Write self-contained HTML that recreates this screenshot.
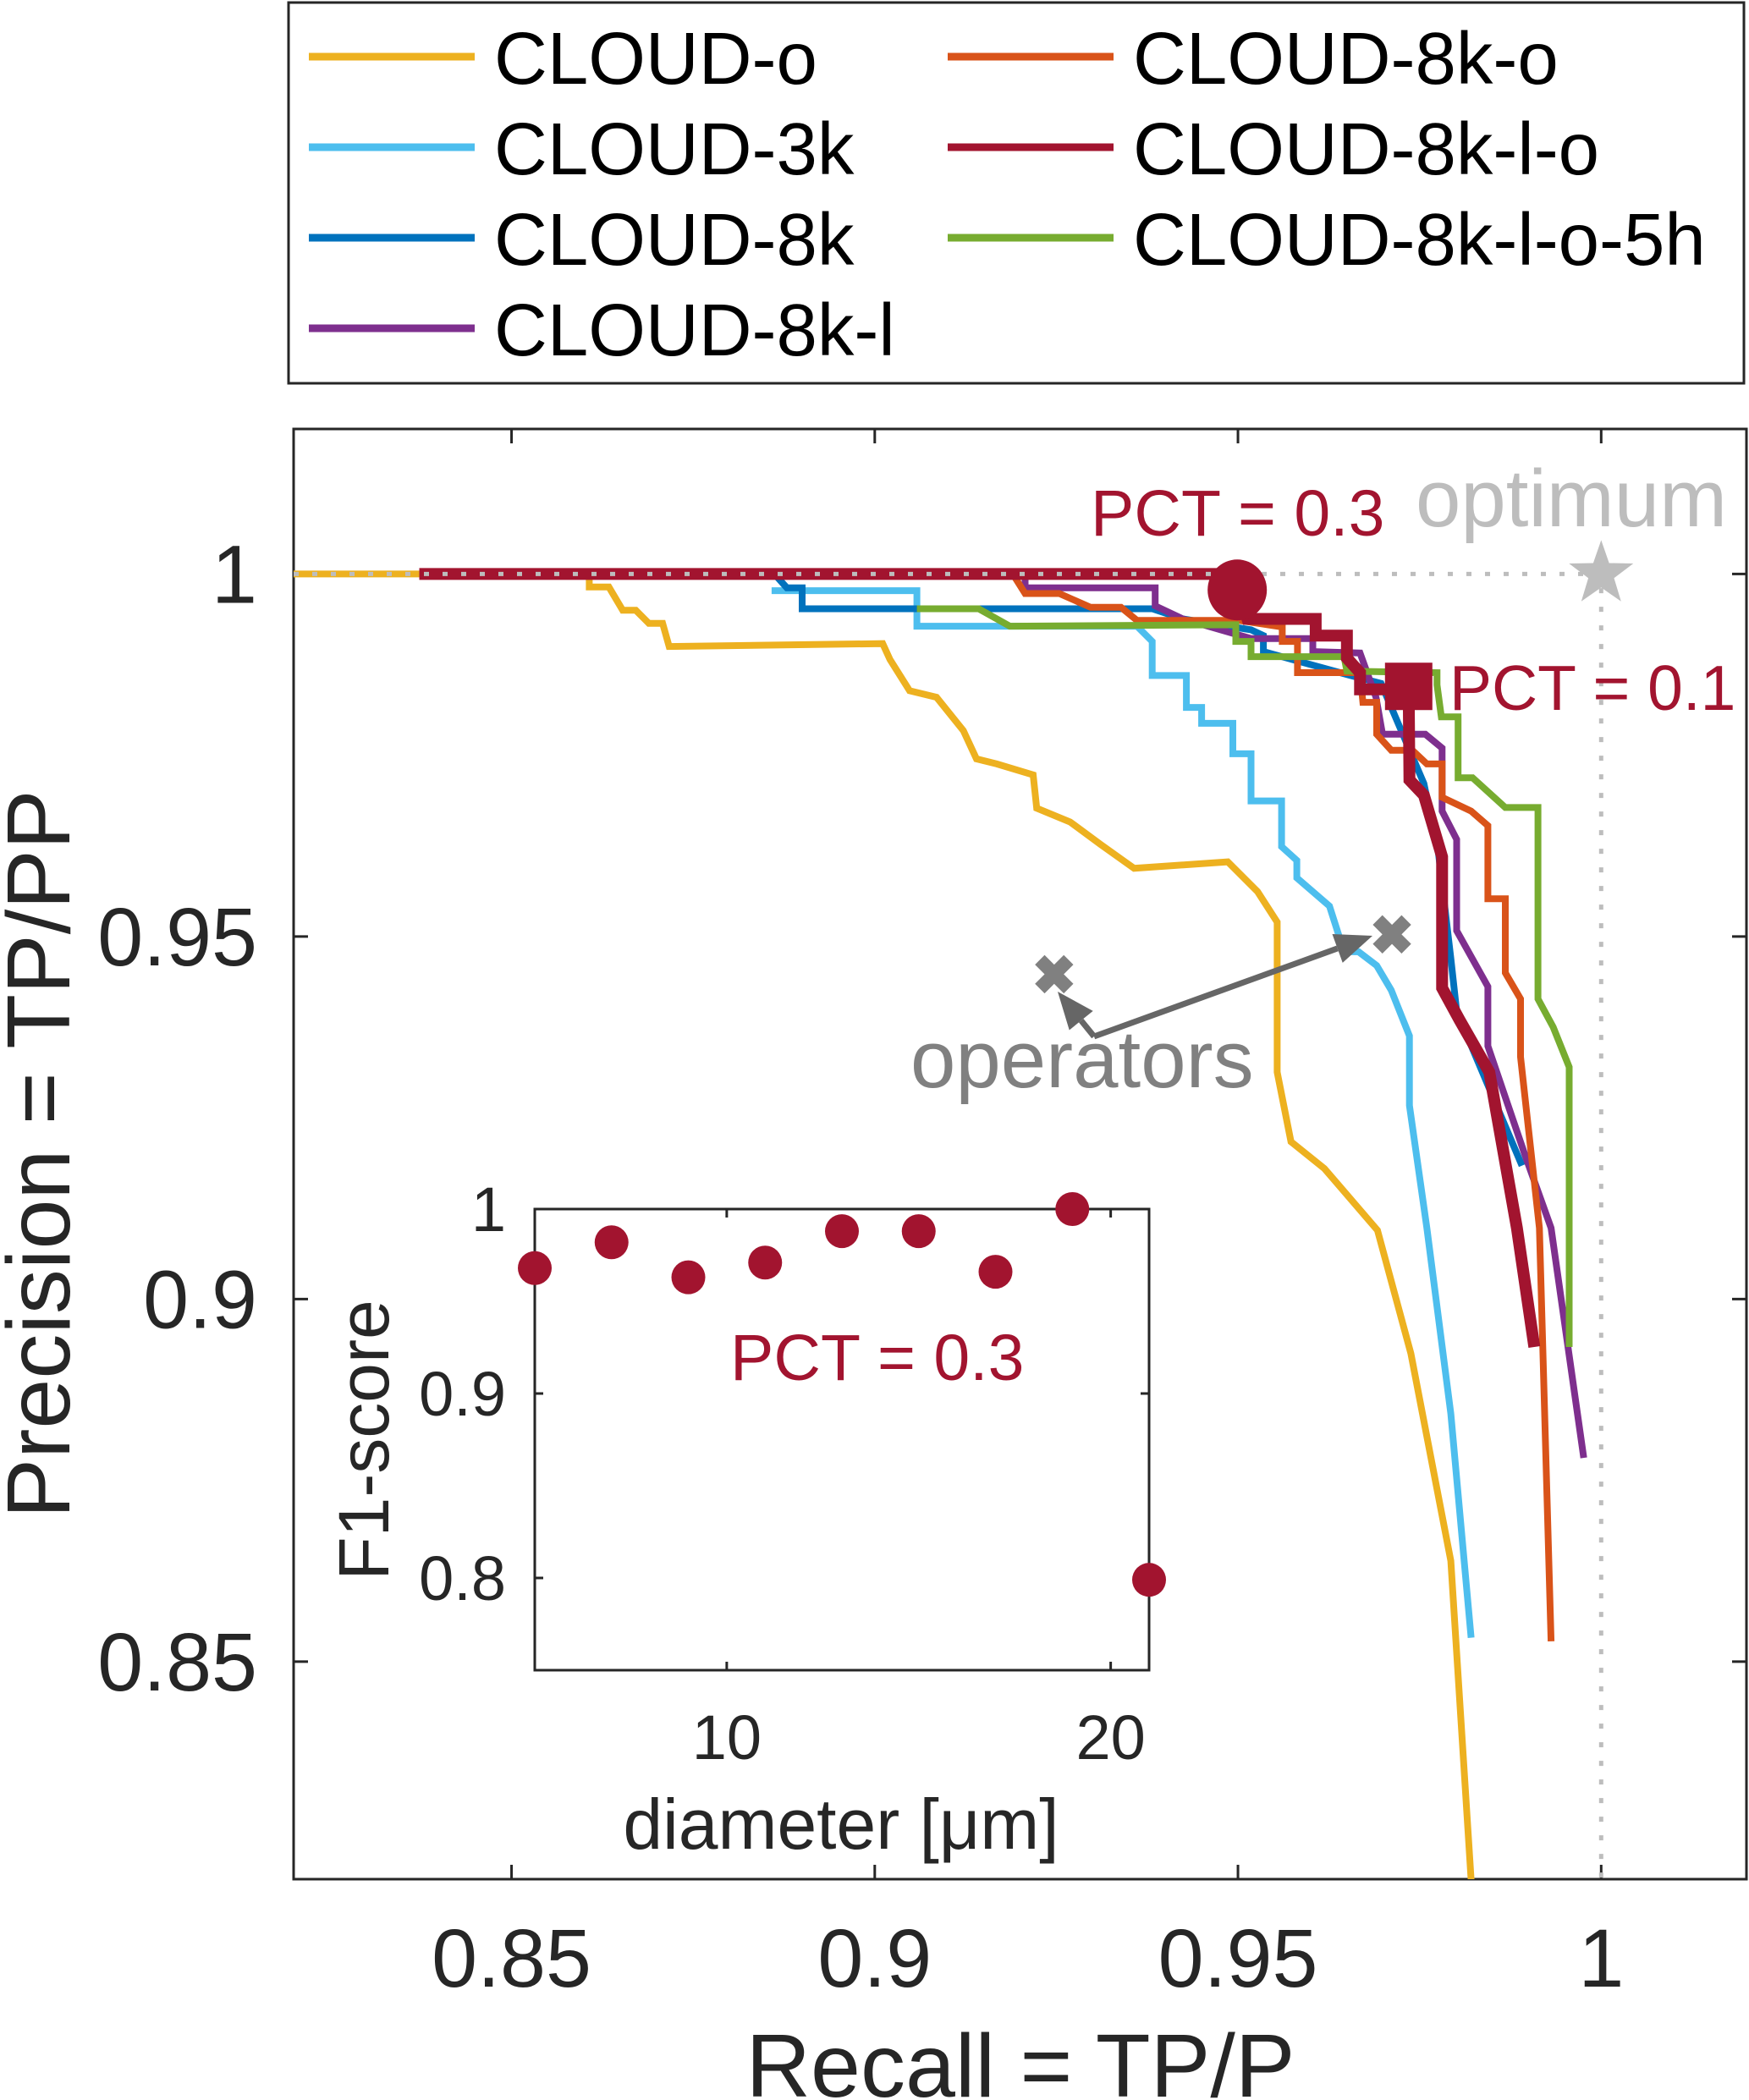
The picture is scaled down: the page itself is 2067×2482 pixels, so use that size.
<!DOCTYPE html>
<html><head><meta charset="utf-8"><style>
html,body{margin:0;padding:0;background:#fff;}
svg{display:block;font-family:"Liberation Sans",Arial,sans-serif;}
</style></head><body>
<svg id="chart" width="2067" height="2482" viewBox="0 0 2067 2482" xmlns="http://www.w3.org/2000/svg">
<g id="legend"></g>
<g id="main"></g>
<g id="inset"></g>
</svg>
<script>
// ===== Main chart data (recall, precision) =====
const seriesNames = ["CLOUD-o","CLOUD-3k","CLOUD-8k","CLOUD-8k-l","CLOUD-8k-o","CLOUD-8k-l-o","CLOUD-8k-l-o-5h"];
const seriesColors = ["#EDB120","#4DBEEE","#0072BD","#7E2F8E","#D95319","#A2142F","#77AC30"];
const recallO = [0.82,0.8607,0.8607,0.8634,0.8653,0.8671,0.8689,0.8708,0.8717,0.9011,0.9021,0.9048,0.9085,0.9122,0.9140,0.9168,0.9218,0.9223,0.9269,0.9311,0.9357,0.9486,0.9527,0.9554,0.9554,0.9573,0.9619,0.9692,0.9738,0.9793,0.9821];
const precO   = [1,1,0.9982,0.9982,0.9950,0.9950,0.9932,0.9932,0.9900,0.9904,0.9882,0.9839,0.9830,0.9784,0.9745,0.9738,0.9723,0.9677,0.9658,0.9627,0.9594,0.9603,0.9562,0.9520,0.9313,0.9217,0.9180,0.9095,0.8925,0.8639,0.8199];
const recall3k = [0.8858,0.9058,0.9058,0.9361,0.9382,0.9382,0.9429,0.9429,0.9450,0.9450,0.9493,0.9493,0.9518,0.9518,0.9560,0.9560,0.9581,0.9581,0.9626,0.9646,0.9666,0.9691,0.9711,0.9736,0.9736,0.9760,0.9793,0.9821];
const prec3k   = [0.9977,0.9977,0.9928,0.9928,0.9907,0.9860,0.9860,0.9816,0.9816,0.9794,0.9794,0.9752,0.9752,0.9687,0.9687,0.9624,0.9605,0.9581,0.9542,0.9479,0.9479,0.9460,0.9426,0.9363,0.9267,0.9098,0.8842,0.8533];
const recall8k = [0.8862,0.8879,0.8900,0.8900,0.9382,0.9424,0.9518,0.9535,0.9535,0.9655,0.9697,0.9756,0.9776,0.9793,0.9801,0.9891];
const prec8k   = [1,0.9981,0.9981,0.9952,0.9952,0.9938,0.9923,0.9915,0.9893,0.9860,0.9849,0.9711,0.9615,0.9470,0.9397,0.9184];
const recall8kl = [0.9207,0.9207,0.9386,0.9386,0.9424,0.9518,0.9603,0.9603,0.9668,0.9690,0.9699,0.9758,0.9781,0.9781,0.9801,0.9801,0.9844,0.9844,0.9895,0.9931,0.9976];
const prec8kl   = [1,0.9981,0.9981,0.9956,0.9938,0.9911,0.9911,0.9893,0.9891,0.9830,0.9779,0.9779,0.9760,0.9673,0.9634,0.9508,0.9431,0.9349,0.9199,0.9098,0.8781];
const recall8ko = [0.9190,0.9207,0.9254,0.9297,0.9339,0.9361,0.9501,0.9561,0.9561,0.9582,0.9582,0.9668,0.9672,0.9691,0.9691,0.9711,0.9740,0.9760,0.9781,0.9781,0.9821,0.9844,0.9844,0.9868,0.9868,0.9889,0.9889,0.9915,0.9931];
const prec8ko   = [1,0.9973,0.9973,0.9954,0.9954,0.9936,0.9936,0.9927,0.9907,0.9907,0.9864,0.9864,0.9823,0.9823,0.9779,0.9757,0.9757,0.9738,0.9738,0.9692,0.9673,0.9653,0.9552,0.9552,0.9450,0.9414,0.9334,0.9098,0.8528];
const recall8klo = [0.8373,0.9493,0.9513,0.9607,0.9607,0.9650,0.9650,0.9668,0.9668,0.9735,0.9736,0.9756,0.9781,0.9781,0.9805,0.9846,0.9884,0.9908];
const prec8klo   = [1,1,0.9938,0.9938,0.9915,0.9915,0.9884,0.9864,0.9841,0.9841,0.9716,0.9695,0.9610,0.9429,0.9385,0.9313,0.9098,0.8934];
const recall5h = [0.9058,0.9143,0.9186,0.9497,0.9497,0.9518,0.9518,0.9646,0.9650,0.9774,0.9774,0.9780,0.9803,0.9803,0.9823,0.9868,0.9913,0.9913,0.9934,0.9956,0.9956];
const prec5h   = [0.9952,0.9952,0.9928,0.9930,0.9907,0.9907,0.9886,0.9886,0.9866,0.9864,0.9847,0.9803,0.9803,0.9719,0.9719,0.9678,0.9678,0.9414,0.9375,0.9320,0.8934];
const xTicks = [0.85,0.9,0.95,1];
const xTickLabels = ["0.85","0.9","0.95","1"];
const yTicks = [0.85,0.9,0.95,1];
const yTickLabels = ["0.85","0.9","0.95","1"];
const pct03Point = [0.9499,0.9978];
const pct01Point = [0.9735,0.9845];
const optimumPoint = [1,1];
const operatorRecall = [0.9247,0.9712];
const operatorPrecision = [0.9448,0.9503];

// ===== Inset data =====
const insetDiameters = [5,7,9,11,13,15,17,19,21];
const insetF1 = [0.968,0.982,0.963,0.971,0.988,0.988,0.966,1.0,0.799];
const insetXTicks = [10,20];
const insetYTicks = [0.8,0.9,1];
const insetYTickLabels = ["0.8","0.9","1"];

const NS = "http://www.w3.org/2000/svg";
function mk(tag, attrs, parent){const e=document.createElementNS(NS,tag);for(const k in attrs)e.setAttribute(k,attrs[k]);parent.appendChild(e);return e;}

const AX={l:347,r:2064,t:507,b:2221,x0:0.82,x1:1.02,y0:0.82,y1:1.02};
function sx(v){return AX.l+(v-AX.x0)/(AX.x1-AX.x0)*(AX.r-AX.l);}
function sy(v){return AX.b-(v-AX.y0)/(AX.y1-AX.y0)*(AX.b-AX.t);}
const main=document.getElementById('main');
let e;
e=mk('rect',{x:AX.l,y:AX.t,width:AX.r-AX.l,height:AX.b-AX.t,fill:'none',stroke:'#262626','stroke-width':3},main);


xTicks.forEach((t,i)=>{
  const x=sx(t);
  let l=mk('path',{d:`M${x},${AX.b}v-17M${x},${AX.t}v17`,stroke:'#262626','stroke-width':3},main);
  
  
  let tx=mk('text',{x:x,y:2348,'font-size':97,'text-anchor':'middle',fill:'#262626'},main);
  tx.textContent=xTickLabels[i];
  
  
});
yTicks.forEach((t,i)=>{
  const y=sy(t);
  let l=mk('path',{d:`M${AX.l},${y}h17M${AX.r},${y}h-17`,stroke:'#262626','stroke-width':3},main);
  
  
  let tx=mk('text',{x:304,y:y+34,'font-size':97,'text-anchor':'end',fill:'#262626'},main);
  tx.textContent=yTickLabels[i];
  
  
});
e=mk('text',{x:1206,y:2478,'font-size':106,'text-anchor':'middle',fill:'#262626'},main);
e.textContent='Recall = TP/P';


e=mk('text',{x:0,y:0,'font-size':106,'text-anchor':'middle',fill:'#262626',transform:'translate(82,1364) rotate(-90)'},main);
e.textContent='Precision = TP/PP';



const clip=mk('clipPath',{id:'mclip'},main);
mk('rect',{x:AX.l,y:AX.t,width:AX.r-AX.l,height:AX.b-AX.t},clip);
const lines=mk('g',{'clip-path':'url(#mclip)'},main);

const drawOrder=[[recallO,precO,0,8,'line-cloud-o'],[recall3k,prec3k,1,8,'line-cloud-3k'],[recall8k,prec8k,2,8,'line-cloud-8k'],[recall8kl,prec8kl,3,8,'line-cloud-8k-l'],[recall8ko,prec8ko,4,8,'line-cloud-8k-o'],[recall5h,prec5h,6,8,'line-cloud-8k-l-o-5h'],[recall8klo,prec8klo,5,14,'line-cloud-8k-l-o']];
drawOrder.forEach(s=>{
  const d=s[0].map((r,i)=>(i?'L':'M')+sx(r).toFixed(1)+','+sy(s[1][i]).toFixed(1)).join('');
  const p=mk('path',{d:d,fill:'none',stroke:seriesColors[s[2]],'stroke-width':s[3],'stroke-linejoin':'miter'},lines);
  
  
});
e=mk('path',{d:`M${sx(0.82)},${sy(1)}H${sx(1)}V${AX.b}`,fill:'none',stroke:'#bdbdbd','stroke-width':5,'stroke-dasharray':'6 16'},lines);


e=mk('ellipse',{cx:sx(pct03Point[0]),cy:sy(pct03Point[1]),rx:35,ry:36,fill:'#A2142F'},main);


e=mk('rect',{x:sx(pct01Point[0])-28,y:sy(pct01Point[1])-28,width:56,height:56,fill:'#A2142F'},main);


(function(){const cx=sx(optimumPoint[0]),cy=sy(optimumPoint[1]);let pts=[];for(let i=0;i<10;i++){const a=-Math.PI/2+i*Math.PI/5,rr=i%2?16:40;pts.push((cx+rr*Math.cos(a)).toFixed(1)+','+(cy+rr*Math.sin(a)).toFixed(1));}
e=mk('polygon',{points:pts.join(' '),fill:'#bdbdbd'},main);

})();
operatorRecall.forEach((r,i)=>{
  const cx=sx(r),cy=sy(operatorPrecision[i]);
  const m=mk('path',{d:`M${cx-17},${cy-17}L${cx+17},${cy+17}M${cx+17},${cy-17}L${cx-17},${cy+17}`,stroke:'#808080','stroke-width':16},main);
  
  
});
function arrow(x1,y1,x2,y2,name){const a=Math.atan2(y2-y1,x2-x1),L=44,W=18;
  const bx=x2-L*Math.cos(a),by=y2-L*Math.sin(a);
  const g=mk('g',{},main);
  
  
  mk('line',{x1:x1,y1:y1,x2:bx,y2:by,stroke:'#666','stroke-width':7},g);
  mk('polygon',{points:`${x2},${y2} ${bx+W*Math.sin(a)},${by-W*Math.cos(a)} ${bx-W*Math.sin(a)},${by+W*Math.cos(a)}`,fill:'#666'},g);}
arrow(1293,1225,1250,1172,'operator-arrow-left');
arrow(1293,1225,1622,1106,'operator-arrow-right');
function label(x,y,size,color,txt,name){const t=mk('text',{x:x,y:y,'font-size':size,fill:color},main);t.textContent=txt;
  
  }
label(1289,633,77,'#A2142F','PCT = 0.3','pct-0.3-label');
label(1673,622,96,'#bdbdbd','optimum','optimum-label');
label(1713,839,75,'#A2142F','PCT = 0.1','pct-0.1-label');
label(1076,1285,96,'#808080','operators','operators-label');

const IN={l:632,r:1358,t:1429,b:1974,x0:5,x1:21,y0:0.75,y1:1};
function ix(v){return IN.l+(v-IN.x0)/(IN.x1-IN.x0)*(IN.r-IN.l);}
function iy(v){return IN.b-(v-IN.y0)/(IN.y1-IN.y0)*(IN.b-IN.t);}
const inset=document.getElementById('inset');
e=mk('rect',{x:IN.l,y:IN.t,width:IN.r-IN.l,height:IN.b-IN.t,fill:'#fff',stroke:'#262626','stroke-width':3},inset);


insetXTicks.forEach(t=>{const x=ix(t);
  let l=mk('path',{d:`M${x},${IN.b}v-10M${x},${IN.t}v10`,stroke:'#262626','stroke-width':3},inset);
  
  
  let tx=mk('text',{x:x,y:2079,'font-size':74,'text-anchor':'middle',fill:'#262626'},inset);tx.textContent=String(t);
  
  });
insetYTicks.forEach((t,i)=>{const y=iy(t);
  let l=mk('path',{d:`M${IN.l},${y}h10M${IN.r},${y}h-10`,stroke:'#262626','stroke-width':3},inset);
  
  
  let tx=mk('text',{x:598,y:y+26,'font-size':74,'text-anchor':'end',fill:'#262626'},inset);tx.textContent=insetYTickLabels[i];
  
  });
e=mk('text',{x:994,y:2185,'font-size':84,'text-anchor':'middle',fill:'#262626'},inset);e.textContent='diameter [μm]';


e=mk('text',{x:0,y:0,'font-size':84,'text-anchor':'middle',fill:'#262626',transform:'translate(459,1702) rotate(-90)'},inset);e.textContent='F1-score';


e=mk('text',{x:863,y:1631,'font-size':77,fill:'#A2142F'},inset);e.textContent='PCT = 0.3';


insetDiameters.forEach((d,i)=>{
  const c=mk('circle',{cx:ix(d),cy:iy(insetF1[i]),r:20,fill:'#A2142F'},inset);
  
  
});

const legend=document.getElementById('legend');
e=mk('rect',{x:341,y:3,width:1720,height:450,fill:'#fff',stroke:'#262626','stroke-width':3},legend);


const legendOrder=[0,1,2,3,4,5,6];
const rowsY=[67,174,281,388];
legendOrder.forEach((si,k)=>{
  const col=k<4?0:1,row=k<4?k:k-4;
  const lx=col?1120:365, y=rowsY[row];
  const g=mk('g',{},legend);
  
  
  mk('line',{x1:lx,y1:y,x2:lx+196,y2:y,stroke:seriesColors[si],'stroke-width':9},g);
  const t=mk('text',{x:lx+219,y:y+32,'font-size':87,fill:'#000'},g);t.textContent=seriesNames[si];
});
</script>
</body></html>
